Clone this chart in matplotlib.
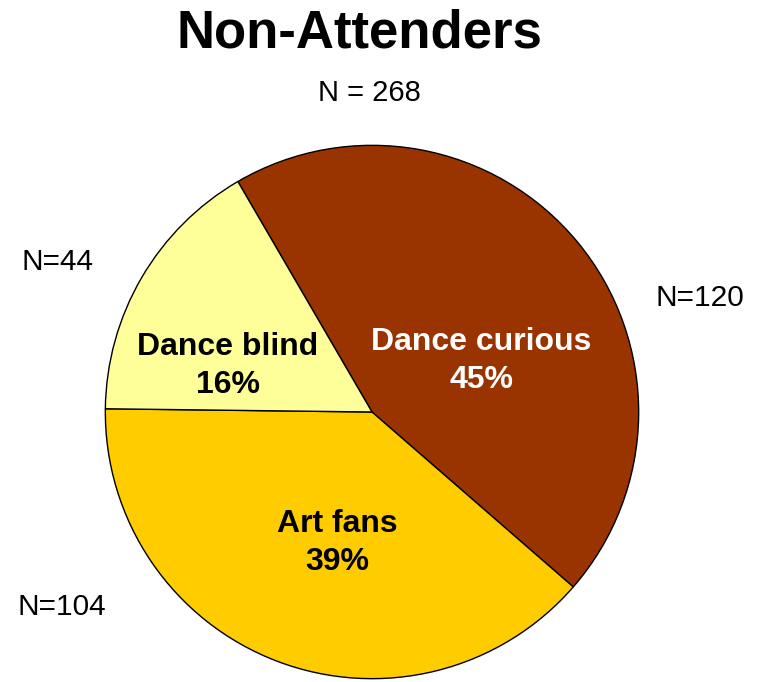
import matplotlib.pyplot as plt

plt.rcParams['font.family'] = ['Liberation Sans', 'DejaVu Sans']

segments = ['Dance curious', 'Art fans', 'Dance blind']
counts = [120, 104, 44]
colors = ['#993300', '#FFCC00', '#FFFF99']
text_colors = ['white', 'black', 'black']
total_n = sum(counts)

W, H = 757, 682
fig = plt.figure(figsize=(W / 100, H / 100), dpi=100)

# pie centre at (372, 412) px, radius 268 px
cx, cy, r = 372, 412, 268
ax = fig.add_axes([(cx - r) / W, (H - cy - r) / H, 2 * r / W, 2 * r / H])

wedges, _ = ax.pie(counts, colors=colors, startangle=120.2, counterclock=False,
                   radius=1, wedgeprops=dict(edgecolor='black', linewidth=1))
ax.set_xlim(-1.005, 1.005)
ax.set_ylim(-1.005, 1.005)
ax.set_aspect('equal')
ax.axis('off')


def px(x, y):
    return x / W, 1 - y / H


# labels inside slices
inner_pos = [(481, 361), (337, 543), (228, 366)]
for name, n, col, (x, y) in zip(segments, counts, text_colors, inner_pos):
    pct = round(100 * n / total_n)
    fig.text(*px(x, y), f"{name}\n{pct}%", ha='center', va='center',
             fontsize=23, fontweight='bold', color=col, linespacing=1.38)

# counts outside
outer_pos = [(700, 298), (62, 607), (58, 262)]
for n, (x, y) in zip(counts, outer_pos):
    fig.text(*px(x, y), f"N={n}", ha='center', va='center', fontsize=21.5)

fig.text(*px(359, 33), "Non-Attenders", ha='center', va='center',
         fontsize=38, fontweight='bold')
fig.text(*px(369, 93), f"N = {total_n}", ha='center', va='center', fontsize=21)

fig.savefig('out.png', dpi=100)
